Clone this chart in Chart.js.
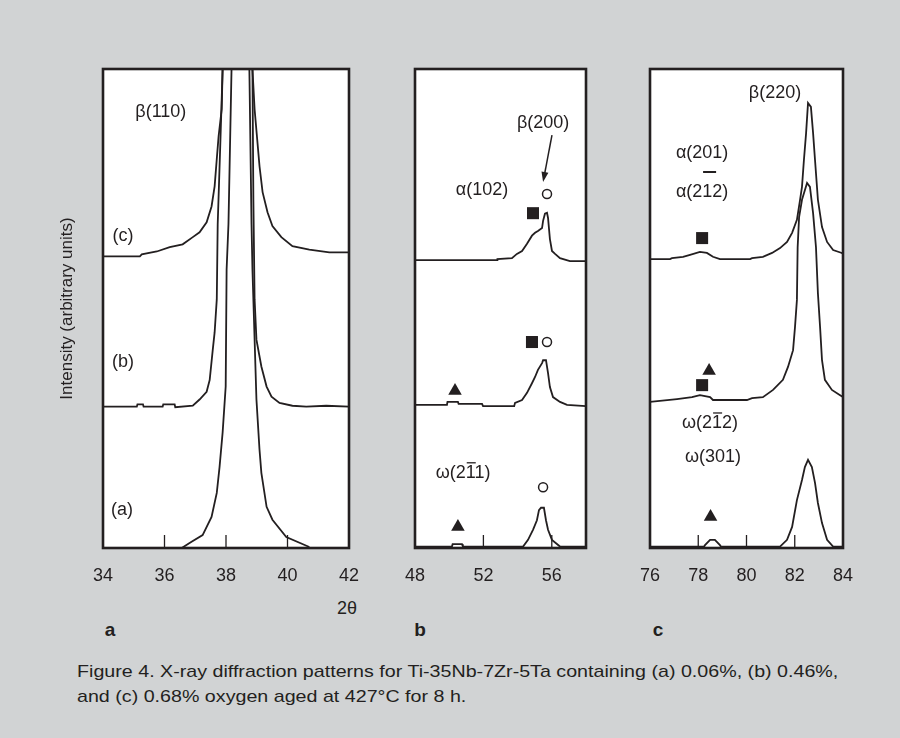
<!DOCTYPE html>
<html>
<head>
<meta charset="utf-8">
<script src="https://cdn.jsdelivr.net/npm/chart.js@4.4.1/dist/chart.umd.min.js"></script>
<style>
  body { margin: 0; width: 900px; height: 738px; background: #d1d3d4; position: relative; overflow: hidden;
         font-family: "Liberation Sans", Arial, sans-serif; color: #231f20; }
  canvas { position: absolute; }
  .t { position: absolute; white-space: nowrap; transform: translate(-50%, -50%); }
  .cap { position: absolute; left: 77px; white-space: nowrap; font-size: 17px; transform-origin: 0 50%; }
</style>
</head>
<body>
<canvas id="chartA" width="313" height="534" style="left:50px;top:59px"></canvas>
<canvas id="chartB" width="199" height="534" style="left:401px;top:59px"></canvas>
<canvas id="chartC" width="221" height="534" style="left:636px;top:59px"></canvas>
<div class="t" style="left:347px;top:608px;font-size:18px">2θ</div>
<div class="t" style="left:110px;top:630px;font-size:19px;font-weight:bold">a</div>
<div class="t" style="left:420px;top:630px;font-size:19px;font-weight:bold">b</div>
<div class="t" style="left:658px;top:630px;font-size:19px;font-weight:bold">c</div>
<div class="cap" id="cap1" style="top:662px">Figure 4. X-ray diffraction patterns for Ti-35Nb-7Zr-5Ta containing (a) 0.06%, (b) 0.46%,</div>
<div class="cap" id="cap2" style="top:687px">and (c) 0.68% oxygen aged at 427°C for 8 h.</div>
<script>
// tick labels
const ticksA = [34, 36, 38, 40, 42];
const ticksB = [48, 52, 56];
const ticksC = [76, 78, 80, 82, 84];

// panel a: beta(110) region, 2theta vs intensity (arbitrary, stacked)
const a_a_x = [36.56, 36.88, 37.24, 37.53, 37.70, 37.79, 37.89, 37.99, 38.02, 38.08, 38.18, 38.47, 38.76, 38.83, 38.86, 38.99, 39.09, 39.15, 39.32, 39.51, 39.96, 40.71];
const a_a_y = [0, 1.3, 2.7, 6.5, 11.5, 16.9, 24.1, 33.7, 58.2, 67.6, 100, 180, 100, 67.6, 58.2, 31.0, 20.5, 15.7, 8.6, 5.9, 2.3, 0.2];
const a_b_x = [34.0, 35.10, 35.12, 35.30, 35.32, 35.94, 35.96, 36.33, 36.35, 36.92, 37.14, 37.37, 37.47, 37.57, 37.63, 37.70, 37.73, 37.82, 37.89, 38.45, 38.86, 38.89, 38.93, 38.99, 39.15, 39.32, 39.48, 39.74, 40.16, 40.61, 41.26, 42.0];
const a_b_y = [29.5, 29.5, 30.0, 30.0, 29.5, 29.5, 30.0, 30.0, 29.4, 29.7, 31.0, 32.6, 35.1, 41.4, 45.0, 51.9, 67.6, 85.4, 100, 170, 100, 72.8, 51.9, 43.5, 37.9, 33.7, 31.6, 30.3, 29.7, 29.5, 29.7, 29.5];
const a_c_x = [34.0, 35.20, 35.26, 35.75, 36.17, 36.59, 36.92, 37.14, 37.37, 37.53, 37.63, 37.70, 37.76, 37.86, 37.89, 38.45, 38.86, 38.93, 39.09, 39.19, 39.35, 39.51, 39.80, 40.16, 40.71, 41.36, 42.0];
const a_c_y = [60.9, 60.9, 61.3, 61.9, 62.8, 63.4, 64.9, 65.9, 68.0, 71.3, 75.5, 81.2, 86.0, 91.6, 100, 170, 100, 91.6, 79.7, 74.3, 70.1, 67.2, 64.9, 63.0, 62.3, 61.7, 61.7];

// panel b: alpha(102) / beta(200) region
const b_a_x = [48, 50.16, 50.20, 50.75, 50.80, 54.32, 54.61, 54.90, 55.13, 55.25, 55.37, 55.54, 55.66, 55.78, 56.01, 56.48, 58];
const b_a_y = [0.3, 0.3, 0.8, 0.8, 0.3, 0.3, 1.7, 3.8, 5.8, 7.9, 8.4, 8.4, 5.8, 3.8, 1.7, 0.3, 0.3];
const b_b_x = [48, 49.87, 49.90, 50.51, 50.55, 51.92, 51.98, 53.80, 53.85, 54.26, 54.55, 54.84, 55.02, 55.19, 55.43, 55.49, 55.66, 55.78, 55.89, 56.07, 56.48, 56.89, 58];
const b_b_y = [29.9, 29.9, 30.5, 30.5, 30.1, 30.1, 29.6, 29.6, 30.3, 30.9, 32.4, 34.4, 35.7, 37.2, 38.6, 39.2, 39.2, 36.5, 33.6, 31.5, 30.5, 29.9, 29.6];
const b_c_x = [48, 52.80, 52.82, 53.67, 53.96, 54.26, 54.55, 54.84, 55.02, 55.19, 55.43, 55.49, 55.60, 55.72, 55.78, 55.89, 56.01, 56.19, 56.48, 57.06, 58];
const b_c_y = [60.1, 60.1, 60.3, 60.5, 61.4, 62.0, 63.5, 65.2, 65.8, 66.2, 66.8, 68.3, 69.8, 70.0, 68.9, 64.5, 62.0, 61.4, 60.5, 59.9, 59.9];

// panel c: alpha(201)/(212), omega, beta(220) region
const c_a_x = [76, 78.24, 78.28, 78.49, 78.69, 78.90, 78.94, 81.39, 81.68, 81.89, 82.09, 82.30, 82.42, 82.55, 82.71, 82.84, 82.96, 83.13, 83.34, 83.59, 84];
const c_a_y = [0.3, 0.3, 0.6, 1.7, 1.7, 0.6, 0.3, 0.3, 1.7, 4.4, 10.0, 14.2, 16.9, 18.4, 16.9, 13.6, 9.4, 5.2, 1.7, 0.3, 0.3];
const c_b_x = [76, 77.12, 77.74, 78.07, 78.49, 78.61, 80.02, 80.23, 80.68, 81.10, 81.51, 81.72, 81.93, 82.01, 82.09, 82.12, 82.18, 82.30, 82.51, 82.63, 82.76, 82.88, 82.96, 83.05, 83.13, 83.25, 83.54, 83.88, 84];
const c_b_y = [30.5, 31.1, 31.5, 31.9, 31.5, 30.9, 30.9, 31.3, 31.5, 33.0, 35.1, 37.8, 41.3, 46.1, 51.8, 62.8, 69.1, 72.7, 76.2, 75.4, 69.9, 62.8, 53.2, 46.1, 39.2, 35.1, 33.0, 31.9, 31.5];
const c_c_x = [76, 76.83, 76.91, 77.37, 77.66, 78.07, 78.36, 78.61, 78.90, 80.15, 80.23, 80.68, 81.06, 81.39, 81.68, 81.89, 82.09, 82.22, 82.30, 82.38, 82.47, 82.55, 82.67, 82.76, 82.84, 82.96, 83.13, 83.34, 83.59, 83.95, 84];
const c_c_y = [60.3, 60.3, 60.5, 60.8, 61.2, 61.8, 61.6, 60.8, 60.3, 60.3, 60.5, 60.8, 61.6, 62.6, 63.9, 65.8, 68.5, 72.7, 75.4, 81.0, 86.6, 92.9, 92.1, 86.6, 81.0, 72.7, 67.0, 63.9, 62.2, 61.6, 61.4];

// phase markers (square = alpha, circle = beta, triangle = omega)
const squaresB = [{x: 54.90, y: 69.9}, {x: 54.84, y: 43.0}];
const circlesB = [{x: 55.72, y: 73.9}, {x: 55.72, y: 43.0}, {x: 55.49, y: 12.7}];
const trianglesB = [{x: 50.34, y: 32.8}, {x: 50.51, y: 4.4}];
const squaresC = [{x: 78.16, y: 64.7}, {x: 78.16, y: 34.0}];
const trianglesC = [{x: 78.45, y: 37.0}, {x: 78.51, y: 6.5}];

const INK = '#231f20';
const FONT = '"Liberation Sans", Arial, sans-serif';
Chart.defaults.font.family = FONT;
Chart.defaults.color = INK;

const pts = (xs, ys) => xs.map((v, i) => ({x: v, y: ys[i]}));
const curve = (xs, ys) => ({data: pts(xs, ys), showLine: true, pointRadius: 0, borderColor: INK, borderWidth: 1.8, tension: 0, fill: false});
const marks = (data, style, r, filled) => ({
  data, showLine: false, pointStyle: style, pointRadius: r, clip: false,
  backgroundColor: filled ? INK : '#fff', borderColor: INK, borderWidth: filled ? 0 : 1.5
});

// frame, inner tick marks and peak notes
const decor = {
  id: 'decor',
  beforeDraw(chart) {
    const {ctx, chartArea: a} = chart;
    ctx.save();
    ctx.fillStyle = '#fff';
    ctx.fillRect(a.left, a.top, a.width, a.height);
    ctx.restore();
  },
  afterDatasetsDraw(chart, args, opts) {
    const {ctx, chartArea: a, scales: {x, y}} = chart;
    ctx.save();
    ctx.strokeStyle = INK;
    ctx.fillStyle = INK;
    ctx.lineWidth = 1.3;
    x.ticks.forEach(t => {
      if (t.value <= x.min || t.value >= x.max) return;
      const px = x.getPixelForValue(t.value);
      ctx.beginPath(); ctx.moveTo(px, a.bottom); ctx.lineTo(px, a.bottom - 13); ctx.stroke();
    });
    ctx.font = '18px ' + FONT;
    ctx.textAlign = 'center';
    ctx.textBaseline = 'middle';
    (opts.notes || []).forEach(n => {
      const px = x.getPixelForValue(n.x), py = y.getPixelForValue(n.y);
      ctx.fillText(n.text, px, py);
      if (n.over != null) {
        const w = ctx.measureText(n.text).width;
        const x0 = px - w / 2 + ctx.measureText(n.text.slice(0, n.over)).width;
        const cw = ctx.measureText(n.text[n.over]).width;
        ctx.lineWidth = 1.3;
        ctx.beginPath(); ctx.moveTo(x0 + 1, py - 10); ctx.lineTo(x0 + cw, py - 10); ctx.stroke();
      }
    });
    (opts.bars || []).forEach(b => {
      ctx.lineWidth = 2;
      ctx.beginPath();
      ctx.moveTo(x.getPixelForValue(b.x0), y.getPixelForValue(b.y));
      ctx.lineTo(x.getPixelForValue(b.x1), y.getPixelForValue(b.y));
      ctx.stroke();
    });
    (opts.arrows || []).forEach(r => {
      const x0 = x.getPixelForValue(r.x0), y0 = y.getPixelForValue(r.y0);
      const x1 = x.getPixelForValue(r.x1), y1 = y.getPixelForValue(r.y1);
      const ang = Math.atan2(y1 - y0, x1 - x0);
      ctx.lineWidth = 1.5;
      ctx.beginPath(); ctx.moveTo(x0, y0); ctx.lineTo(x1 - 6 * Math.cos(ang), y1 - 6 * Math.sin(ang)); ctx.stroke();
      ctx.beginPath();
      ctx.moveTo(x1, y1);
      ctx.lineTo(x1 - 10 * Math.cos(ang) + 3.5 * Math.sin(ang), y1 - 10 * Math.sin(ang) - 3.5 * Math.cos(ang));
      ctx.lineTo(x1 - 10 * Math.cos(ang) - 3.5 * Math.sin(ang), y1 - 10 * Math.sin(ang) + 3.5 * Math.cos(ang));
      ctx.closePath(); ctx.fill();
    });
    ctx.lineWidth = 2.6;
    ctx.strokeRect(a.left, a.top, a.width, a.height);
    ctx.restore();
  }
};

function makeChart(id, datasets, ticks, min, max, deco, showTitle) {
  return new Chart(document.getElementById(id), {
    type: 'scatter',
    data: {datasets},
    options: {
      responsive: false,
      animation: false,
      devicePixelRatio: 1,
      events: [],
      layout: {padding: {left: showTitle ? 0 : 14, right: 14, top: 10, bottom: 0}},
      plugins: {legend: {display: false}, tooltip: {enabled: false}, decor: deco},
      scales: {
        x: {
          type: 'linear', min, max,
          grid: {display: false, drawTicks: false},
          border: {display: false},
          afterBuildTicks: s => { s.ticks = ticks.map(v => ({value: v})); },
          afterFit: s => { s.height = 45; s.paddingLeft = 0; s.paddingRight = 0; },
          ticks: {padding: 17, font: {size: 18}, color: INK, maxRotation: 0, autoSkip: false}
        },
        y: {
          type: 'linear', min: 0, max: 100,
          display: showTitle,
          grid: {display: false, drawTicks: false},
          border: {display: false},
          ticks: {display: false},
          afterFit: s => { if (showTitle) s.width = 53; },
          title: {display: showTitle, text: 'Intensity (arbitrary units)', font: {size: 17}, color: INK, padding: {top: 7, bottom: 0}}
        }
      }
    },
    plugins: [decor]
  });
}

makeChart('chartA', [curve(a_a_x, a_a_y), curve(a_b_x, a_b_y), curve(a_c_x, a_c_y)], ticksA, 34, 42, {
  notes: [
    {text: 'β(110)', x: 35.88, y: 91.0},
    {text: '(c)', x: 34.65, y: 65.1},
    {text: '(b)', x: 34.65, y: 38.9},
    {text: '(a)', x: 34.62, y: 7.9}
  ]
}, true);

makeChart('chartB', [
  curve(b_a_x, b_a_y), curve(b_b_x, b_b_y), curve(b_c_x, b_c_y),
  marks(squaresB, 'rect', 8.5, true), marks(circlesB, 'circle', 4.5, false), marks(trianglesB, 'triangle', 7.8, true)
], ticksB, 48, 58, {
  notes: [
    {text: 'β(200)', x: 55.49, y: 88.7},
    {text: 'α(102)', x: 51.92, y: 74.7},
    {text: 'ω(211)', x: 50.81, y: 15.7, over: 3}
  ],
  arrows: [{x0: 56.01, y0: 86.2, x1: 55.49, y1: 76.4}]
}, false);

makeChart('chartC', [
  curve(c_a_x, c_a_y), curve(c_b_x, c_b_y), curve(c_c_x, c_c_y),
  marks(squaresC, 'rect', 8.5, true), marks(trianglesC, 'triangle', 7.8, true)
], ticksC, 76, 84, {
  notes: [
    {text: 'β(220)', x: 81.18, y: 95.0},
    {text: 'α(201)', x: 78.16, y: 82.5},
    {text: 'α(212)', x: 78.16, y: 74.3},
    {text: 'ω(212)', x: 78.49, y: 26.1, over: 3},
    {text: 'ω(301)', x: 78.61, y: 19.0}
  ],
  bars: [{x0: 78.20, x1: 78.74, y: 78.5}]
}, false);

// squeeze the caption to the width it has in the figure
const c1 = document.getElementById('cap1'), c2 = document.getElementById('cap2');
const k = 761 / c1.offsetWidth;
[c1, c2].forEach(el => { el.style.transform = 'scaleX(' + k + ')'; });
</script>
</body>
</html>
